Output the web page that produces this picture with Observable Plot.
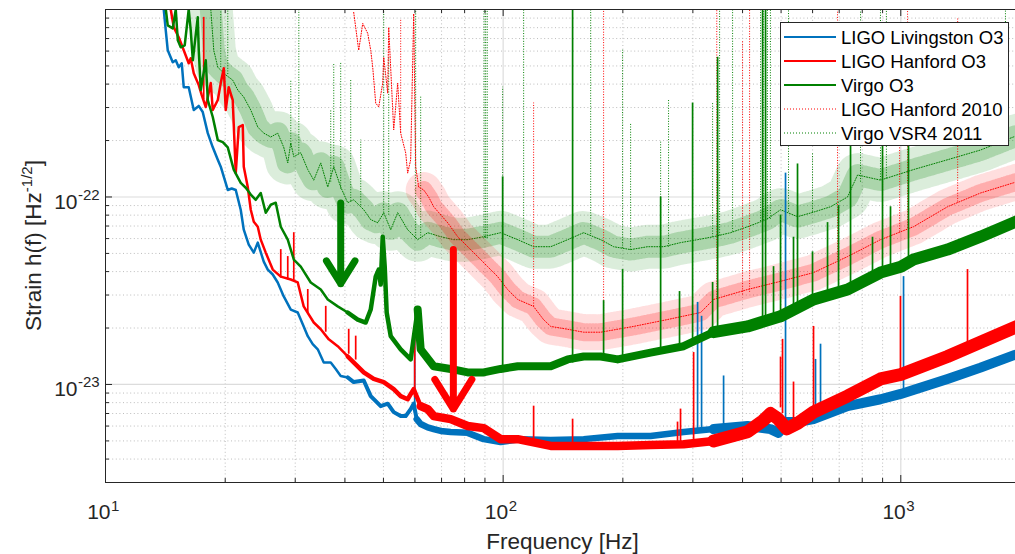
<!DOCTYPE html>
<html><head><meta charset="utf-8">
<script src="https://cdn.jsdelivr.net/npm/d3@7"></script>
<script src="https://cdn.jsdelivr.net/npm/@observablehq/plot@0.6"></script>
<style>
html,body{margin:0;padding:0;background:#fff;overflow:hidden;}
#wrap{position:relative;width:1021px;height:554px;overflow:hidden;}
#legend{position:absolute;left:780px;top:22px;}
</style></head><body><div id="wrap"><div id="chart"></div><div id="legend"></div></div>
<script>
// ---------- data (frequency in Hz, strain in units of 1e-23 / sqrt(Hz)) ----------
const livingstonO3 = [[14.01,100],[14.18,77],[14.34,60.6],[14.76,52.3],[15.02,53.6],[15.28,49.2],[15.55,51.7],[15.73,38.5],[16.19,38.5],[16.67,29.1],[17.16,30.6],[17.56,28.4],[18.08,21.9],[18.61,18.4],[19.16,15.8],[19.49,14.5],[20.30,10.9],[20.77,11.1],[21.26,10.9],[21.88,8.55],[22.27,6.69],[22.92,5.57],[23.60,5.05],[24.15,5.71],[25.00,4.52],[25.59,4.10],[26.34,3.86],[27.11,3.50],[28.07,2.95],[29.24,2.51],[30.44,2.42],[31.51,2.04],[32.26,1.81],[33.20,1.64],[34.18,1.54],[35.39,1.31],[36.85,1.31],[37.93,1.21],[39.04,1.11],[40.65,1.09],[42.09,1.03],[44.61,1.05],[46.45,0.867],[49.21,0.766],[51.25,0.79],[53.06,0.712],[55.25,0.678],[56.87,0.678],[58.54,0.739],[59.57,0.79],[60.61,0.653],[62.03,0.615],[64.60,0.59],[66.88,0.578],[69.64,0.565],[73.79,0.558],[81.44,0.552],[89.33,0.511],[98.56,0.493],[110.7,0.511],[131.7,0.505],[159.4,0.511],[194.1,0.531],[234.8,0.531],[284.3,0.558],[338.2,0.578],[411.8,0.60],[470.4,0.578],[492.7,0.552],[516,0.63],[549.9,0.63],[603.3,0.653],[734.6,0.766],[889.1,0.834],[1000,0.89],[1310.9,1.07],[1586.4,1.23],[1920,1.43],[2000,1.46]];
const livingstonO3Lines = [[59.92,0.7,1.90],[308.3,0.56,2.74],[315.5,0.56,2.31],[358.4,0.58,1.11],[513,0.6,13.4],[610.3,0.65,1.36],[628.3,0.66,1.64],[1016,0.9,3.76]];

const hanfordO3 = [[14.59,100],[14.85,80.3],[15.28,71.1],[15.73,60.6],[16.19,51.7],[16.38,55],[16.67,45.7],[17.16,39.5],[17.46,34.9],[17.87,30.2],[18.40,40.5],[18.61,29.1],[19.16,32.9],[19.49,40.5],[19.84,48.6],[20.06,29.1],[20.41,38.5],[20.89,32.9],[21.26,13.4],[21.63,23.6],[22.14,24.2],[22.27,14.5],[22.79,11.3],[23.19,8.55],[23.60,7.38],[24.15,6.94],[24.57,5.92],[25.29,5.05],[26.34,4.10],[27.59,3.76],[29.24,3.63],[30.44,3.50],[31.51,2.61],[33.40,2.14],[34.78,1.97],[36.43,1.74],[38.37,1.60],[40.65,1.41],[44.61,1.16],[47.26,1.07],[50.08,1.03],[53.06,0.944],[55.25,0.867],[57.53,0.834],[59.57,0.944],[62.03,0.766],[64.60,0.739],[66.88,0.678],[73.79,0.653],[81.44,0.60],[89.33,0.585],[98.56,0.511],[108.8,0.511],[131.7,0.47],[159.4,0.47],[194.1,0.47],[234.8,0.476],[284.3,0.48],[338.2,0.50],[411.8,0.56],[450,0.64],[470.4,0.70],[489.8,0.66],[516,0.58],[549.9,0.62],[603.3,0.712],[734.6,0.867],[889.1,1.07],[1000,1.13],[1310.9,1.41],[1586.4,1.68],[1920,2.0],[2000,2.08]];
const hanfordO3Lines = [[17.66,33,90.8],[27.59,3.7,5.24],[28.73,3.6,4.81],[29.75,3.55,6.45],[32.26,2.4,3.21],[35.8,1.9,2.61],[40.89,1.45,1.97],[42.58,1.35,1.81],[59.92,0.85,1.90],[119.3,0.5,0.766],[149.5,0.47,0.653],[274.5,0.49,0.63],[279.3,0.49,0.739],[301.3,0.5,1.48],[498.4,0.75,1.4],[504.2,0.7,1.74],[537.3,0.6,1.03],[603.3,0.7,2.04],[998,1.1,2.95],[1471.5,1.5,4.10]];

const virgoO3 = [[14.18,100],[14.34,82.3],[14.76,79.3],[15.02,100],[15.20,68.5],[15.46,62.9],[15.82,64.4],[16.19,100],[16.38,77.4],[16.58,53.6],[17.06,90.8],[17.16,60.6],[17.36,37.2],[17.87,53.6],[18.08,32.9],[18.61,26.7],[19.16,20.1],[19.72,19.6],[20.30,18.4],[21.01,14.0],[21.88,11.9],[22.53,11.2],[23.19,10.3],[23.87,9.66],[24.57,10.5],[25.29,8.24],[26.04,9.09],[26.80,9.32],[27.59,6.94],[28.73,5.92],[29.75,4.64],[30.98,4.25],[32.82,3.50],[34.78,3.21],[36.22,2.84],[38.37,2.61],[40.65,2.42],[43.08,2.22],[45.12,2.14],[46.45,2.51],[47.81,3.76],[48.65,4.10],[49.21,3.41],[49.79,6.14],[50.37,4.25],[50.95,2.42],[52.15,1.81],[55.25,1.54],[58.54,1.36],[60.96,2.51],[62.03,1.54],[66.88,1.25],[73.79,1.21],[81.44,1.16],[89.33,1.16],[98.56,1.21],[108.8,1.25],[131.7,1.25],[145.3,1.36],[159.4,1.41],[175.9,1.41],[194.1,1.36],[234.8,1.48],[284.3,1.60],[338.2,1.90],[411.8,2.04],[498.4,2.31],[603.3,2.84],[734.6,3.21],[889.1,3.95],[1000,4.25],[1076.4,4.64],[1310.9,5.24],[1586.4,6.14],[1920,7.29],[2000,7.57]];
const virgoO3Lines = [[99.7,1.2,12.8],[149.5,1.3,100],[178.9,1.4,2.8],[199.7,1.35,4.1],[248.9,1.5,10],[277.7,1.6,3.13],[299.5,1.7,31.7],[336.3,1.9,3.5],[346.2,1.9,55.6],[449.2,2.1,100],[457,2.1,100],[478.6,2.2,4.25],[498.4,2.3,8],[537.3,2.5,6.1],[549.9,2.5,15],[599.8,2.8,5.1],[654.3,3.0,7.3],[697.3,3.1,9],[747.5,3.2,20],[848.9,3.6,6.1],[899.5,3.9,20],[942.2,4.0,8.87],[1045.6,4.5,20]];

const hanford2010 = [[42.09,96.5],[43.33,60.6],[44.35,84.3],[45.65,74.6],[46.45,60.6],[46.99,49.2],[47.81,31.7],[48.65,30.2],[49.79,40.5],[50.08,55.6],[51.25,35.8],[51.55,80.3],[53.06,22.8],[54.30,40.5],[55.25,21.9],[56.87,17.2],[57.53,13.4],[58.54,15.8],[59.57,95],[60.26,14.5],[61.32,11.3],[63.12,10.9],[64.97,10.0],[66.88,8.87],[72.52,7.29],[76.85,6.14],[81.44,5.43],[86.28,4.81],[91.42,4.25],[96.87,3.76],[102.6,3.21],[108.8,2.84],[119.2,2.61],[126.3,2.22],[131.7,2.04],[145.3,1.97],[159.4,1.90],[175.9,1.90],[212.9,2.04],[259.1,2.22],[313.7,2.42],[338.2,2.84],[411.8,3.21],[498.4,3.55],[603.3,3.95],[734.6,4.81],[889.1,5.92],[1076.4,6.94],[1310.9,8.87],[1586.4,10.5],[1920,11.9],[2000,12.2]];
const hanford2010Lines = [[55.25,21.9,87.5],[119.3,2.6,31.7],[178.9,1.9,100],[344.5,2.9,100],[400,3.0,68],[416.6,3.1,100],[693.3,4.6,100],[900,5.9,70],[993,6.5,60],[1040,6.8,100],[1390,9.4,90]];

const virgo2011 = [[18.4,100],[18.72,60.6],[19.16,49.2],[20.0,45],[20.89,42.0],[21.51,37.2],[22.27,34.1],[23.19,29.1],[24.15,23.6],[25.00,21.9],[26.04,20.9],[27.11,21.9],[28.07,18.4],[28.73,15.2],[29.24,19.4],[29.75,16.4],[30.98,17.2],[32.26,14.0],[33.40,12.3],[34.78,15.2],[36.22,11.3],[37.5,14.5],[39.04,11.3],[40.65,9.32],[42.09,9.66],[44.61,8.55],[46.45,7.57],[48.37,7.29],[50.08,8.24],[52.15,6.69],[54.30,8.24],[57.53,6.69],[60.96,5.92],[64.60,6.45],[69.64,6.14],[75.08,5.92],[81.44,5.92],[89.33,6.14],[98.56,6.45],[108.8,5.92],[119.3,5.43],[131.7,5.43],[145.3,5.92],[159.4,6.45],[175.9,5.92],[189.6,5.43],[209.2,5.24],[230.8,5.43],[253.2,5.43],[279.3,5.71],[308.3,5.92],[338.2,6.14],[373.3,6.45],[411.8,6.94],[459.2,7.57],[498.4,8.55],[549.9,7.85],[603.3,8.3],[665.9,8.87],[734.6,10.0],[778.4,13.1],[889.1,12.3],[1076.4,14.0],[1310.9,15.8],[1586.4,17.8],[1920,20.9],[2000,21.4]];
const virgo2011Lines = [[19.49,49,100],[20.30,45,100],[29.24,19,42.0],[30.63,17,100],[36.85,12,29.1],[37.5,14,51.7],[39.04,11,51.7],[41.37,9.5,42.0],[43.84,9,20.1],[50.08,8.2,100],[51.55,8,55.6],[60.26,6,100],[62.03,6,34.1],[89.5,6,100],[90.36,6,100],[91.2,6,100],[99.7,6.4,38.5],[112.6,5.9,100],[166.0,6.3,100],[199.7,5.3,60.6],[209.2,5.2,24.8],[248.9,5.4,19.6],[260.6,5.4,32.9],[336.3,6.1,31.7],[350.2,6.2,100],[377.6,6.5,100],[444,7.4,100],[452,7.5,100],[462,7.6,100],[470,7.6,100],[522,8.3,100],[599.8,8.3,17.2],[792,12,100],[889,12.3,100],[920,12.5,100],[1833,19,100]];

// arrows: frequency, strain at tail and at tip (units of 1e-23)
const arrowF = [39.04, 74.95];
const arrowFrom = [9.3, 5.24];
const arrowTo = [3.45, 0.739];
const arrowColor = ["#008000", "#FF0000"];

// ticks
const xLabelTicks = [10, 100, 1000];
const xMinorTicks = [20,30,40,50,60,70,80,90,200,300,400,500,600,700,800,900,2000];
const yLabelTicks = [1e-23, 1e-22];
const yMinorTicks = [4e-24,5e-24,6e-24,7e-24,8e-24,9e-24,2e-23,3e-23,4e-23,5e-23,6e-23,7e-23,8e-23,9e-23,2e-22,3e-22,4e-22,5e-22,6e-22,7e-22,8e-22,9e-22];

const legendNames = ["LIGO Livingston O3","LIGO Hanford O3","Virgo O3","LIGO Hanford 2010","Virgo VSR4 2011"];

// ---------- chart ----------
const U = 1e-23;
const BLUE = "#0072BD", RED = "#FF0000", GREEN = "#008000";
const W = 1021, H = 554;
const M = {left: 105, right: 1, top: 9, bottom: 72};
const innerW = W - M.left - M.right, innerH = H - M.top - M.bottom;
const AX = "#262626";
const FONT = "'Liberation Sans', Arial, Helvetica, sans-serif";

const rows = a => a.map(([f, h]) => ({f, h: h * U}));
const spikes = a => a.map(([f, b, p]) => ({f, b: b * U, p: p * U}));

// noise-band thickness of the O3 traces, by frequency range
function solidSeries(data, lines, color, bands) {
  const r = rows(data);
  return [
    Plot.ruleX(spikes(lines), {x: "f", y1: "b", y2: "p", stroke: color, strokeWidth: 1.7, clip: true}),
    Plot.line(r, {x: "f", y: "h", stroke: color, strokeWidth: 2.5, strokeLinejoin: "round", clip: true}),
    ...bands.map(([lo, hi, w]) => Plot.line(r.filter(d => d.f >= lo && d.f <= hi), {
      x: "f", y: "h", stroke: color, strokeWidth: w, strokeLinejoin: "round", strokeLinecap: "round", clip: true
    }))
  ];
}
function dottedSeries(data, lines, color, hazes, fmin) {
  const r = rows(data);
  return [
    ...hazes.map(([w, op]) => Plot.line(r.filter(d => d.f >= fmin), {
      x: "f", y: "h", stroke: color, strokeWidth: w, strokeOpacity: op, strokeDasharray: "1 2", strokeLinejoin: "round", clip: true
    })),
    Plot.ruleX(spikes(lines), {x: "f", y1: "b", y2: "p", stroke: color, strokeWidth: 1, strokeDasharray: "1 1.6", clip: true}),
    Plot.line(r, {x: "f", y: "h", stroke: color, strokeWidth: 1, strokeDasharray: "1 1.6", clip: true})
  ];
}

const chart = Plot.plot({
  width: W, height: H,
  marginLeft: M.left, marginRight: M.right, marginTop: M.top, marginBottom: M.bottom,
  x: {type: "log", domain: [10, 2000], axis: null},
  y: {type: "log", domain: [3e-24, 1e-21], axis: null},
  style: {fontFamily: FONT, background: "white", maxWidth: "none", overflow: "visible"},
  marks: [
    // grid
    Plot.ruleX(xMinorTicks, {stroke: "#b5b5b5", strokeWidth: 0.9, strokeDasharray: "1 2.6"}),
    Plot.ruleY(yMinorTicks, {stroke: "#b5b5b5", strokeWidth: 0.9, strokeDasharray: "1 2.6"}),
    Plot.ruleX(xLabelTicks.slice(1), {stroke: "#dcdcdc", strokeWidth: 1.2}),
    Plot.ruleY(yLabelTicks, {stroke: "#dcdcdc", strokeWidth: 1.2}),
    // older runs (dotted)
    ...dottedSeries(virgo2011, virgo2011Lines, GREEN, [[44, 0.14], [22, 0.22]], 0),
    ...dottedSeries(hanford2010, hanford2010Lines, RED, [[36, 0.13], [18, 0.22]], 62),
    // O3
    ...solidSeries(livingstonO3, livingstonO3Lines, BLUE, [[40, 75, 4], [60, 420, 6.5], [300, 2000, 10]]),
    ...solidSeries(hanfordO3, hanfordO3Lines, RED, [[40, 75, 4.5], [60, 420, 8.5], [300, 2000, 13]]),
    ...solidSeries(virgoO3, virgoO3Lines, GREEN, [[40, 75, 4.5], [60, 420, 8], [300, 2000, 12]]),
    // arrows
    ...arrowF.map((f, i) => Plot.arrow([{f, a: arrowFrom[i] * U, b: arrowTo[i] * U}], {
      x: "f", y1: "a", y2: "b", stroke: arrowColor[i], strokeWidth: 7, headLength: 7.5, headAngle: 64, clip: true
    })),
    // frame and inward ticks
    Plot.frame({stroke: AX, strokeWidth: 1}),
    Plot.ruleX(xLabelTicks, {stroke: AX, insetTop: innerH - 7}),
    Plot.ruleX(xMinorTicks, {stroke: AX, insetTop: innerH - 4}),
    Plot.ruleX(xLabelTicks, {stroke: AX, insetBottom: innerH - 7}),
    Plot.ruleX(xMinorTicks, {stroke: AX, insetBottom: innerH - 4}),
    Plot.ruleY(yLabelTicks, {stroke: AX, insetRight: innerW - 7}),
    Plot.ruleY(yMinorTicks, {stroke: AX, insetRight: innerW - 4}),
    // tick labels (10 with superscript exponent)
    Plot.text(xLabelTicks, {x: d => d, frameAnchor: "bottom", dy: 36, dx: 5, text: () => "10", textAnchor: "end", lineAnchor: "bottom", fontSize: 21, fill: AX}),
    Plot.text(xLabelTicks, {x: d => d, frameAnchor: "bottom", dy: 28, dx: 5.5, text: d => String(Math.round(Math.log10(d))), textAnchor: "start", lineAnchor: "bottom", fontSize: 15, fill: AX}),
    Plot.text(yLabelTicks, {y: d => d, frameAnchor: "left", dx: -28, dy: 12, text: () => "10", textAnchor: "end", lineAnchor: "bottom", fontSize: 21, fill: AX}),
    Plot.text(yLabelTicks, {y: d => d, frameAnchor: "left", dx: -27.5, dy: 3, text: d => String(Math.round(Math.log10(d))), textAnchor: "start", lineAnchor: "bottom", fontSize: 15, fill: AX})
  ]
});
chart.style.maxWidth = "none";
document.getElementById("chart").appendChild(chart);

// axis labels
const svg = d3.select(chart);
svg.append("text").attr("x", M.left + innerW / 2).attr("y", 549).attr("text-anchor", "middle")
  .attr("fill", AX).style("font-size", "22.5px").text("Frequency [Hz]");
const yl = svg.append("text").attr("transform", `translate(41,${M.top + innerH / 2}) rotate(-90)`)
  .attr("text-anchor", "middle").attr("fill", AX).style("font-size", "22.5px");
yl.append("tspan").text("Strain h(f) [Hz");
yl.append("tspan").attr("dy", -9).style("font-size", "15px").text("-1/2");
yl.append("tspan").attr("dy", 9).text("]");

// legend
const legendStyle = [
  {color: BLUE, dash: null, w: 2.2},
  {color: RED, dash: null, w: 2.2},
  {color: GREEN, dash: null, w: 2.2},
  {color: RED, dash: "1 2", w: 1},
  {color: GREEN, dash: "1 2", w: 1}
];
const lg = d3.select("#legend").append("svg").attr("width", 230).attr("height", 125)
  .style("font-family", FONT).style("display", "block");
lg.append("rect").attr("x", 0.5).attr("y", 0.5).attr("width", 228).attr("height", 123)
  .attr("fill", "white").attr("stroke", AX).attr("stroke-width", 1);
legendNames.forEach((name, i) => {
  const cy = 15 + 24 * i;
  const s = legendStyle[i];
  lg.append("line").attr("x1", 4).attr("x2", 56).attr("y1", cy).attr("y2", cy)
    .attr("stroke", s.color).attr("stroke-width", s.w).attr("stroke-dasharray", s.dash);
  lg.append("text").attr("x", 61).attr("y", cy + 6.8).attr("fill", "#000")
    .style("font-size", "18.5px").text(name);
});
</script>
</body></html>
